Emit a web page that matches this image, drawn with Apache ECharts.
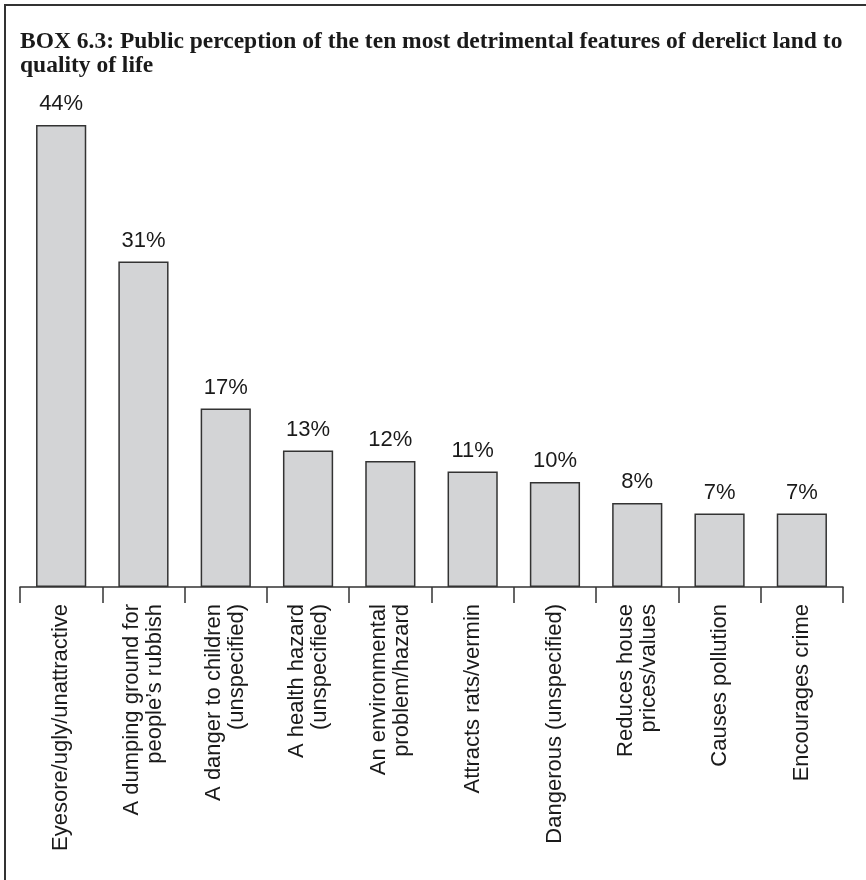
<!DOCTYPE html>
<html>
<head>
<meta charset="utf-8">
<script src="https://cdn.jsdelivr.net/npm/echarts@6/dist/echarts.min.js"></script>
<style>
  html, body { margin: 0; padding: 0; background: #ffffff; }
  #chart { width: 866px; height: 880px; }
</style>
</head>
<body>
<div id="chart"></div>
<script>
// Features of derelict land judged most detrimental to quality of life
const categories = [
  'Eyesore/ugly/unattractive',
  'A dumping ground for\npeople\u2019s rubbish',
  'A danger to children\n(unspecified)',
  'A health hazard\n(unspecified)',
  'An environmental\nproblem/hazard',
  'Attracts rats/vermin',
  'Dangerous (unspecified)',
  'Reduces house\nprices/values',
  'Causes pollution',
  'Encourages crime'
];
// Share of respondents (%)
const percentages = [44, 31, 17, 13, 12, 11, 10, 8, 7, 7];

const titleText = 'BOX 6.3: Public perception of the ten most detrimental features of derelict land to\nquality of life';

const chart = echarts.init(document.getElementById('chart'), null, { renderer: 'canvas' });

chart.setOption({
  animation: false,
  backgroundColor: '#ffffff',
  title: {
    text: titleText,
    left: 20,
    top: 30,
    padding: 0,
    textStyle: {
      fontFamily: 'Liberation Serif',
      fontWeight: 'bold',
      fontSize: 23.5,
      lineHeight: 24,
      color: '#1a1a1a'
    }
  },
  graphic: [{
    type: 'rect',
    shape: { x: 5, y: 5, width: 900, height: 900 },
    style: { fill: 'none', stroke: '#333333', lineWidth: 2 },
    silent: true
  }],
  grid: { left: 20, right: 23, top: 62, bottom: 293 },
  xAxis: {
    type: 'category',
    data: categories,
    axisLine: { show: true, lineStyle: { color: '#333333', width: 1.5 } },
    axisTick: { show: true, length: 16, lineStyle: { color: '#333333', width: 1.5 } },
    axisLabel: {
      rotate: 90,
      interval: 0,
      margin: 17,
      fontFamily: 'Liberation Sans',
      fontSize: 22,
      lineHeight: 23,
      color: '#1a1a1a'
    }
  },
  yAxis: {
    type: 'value',
    min: 0,
    max: 50,
    show: false,
    splitLine: { show: false }
  },
  series: [{
    type: 'bar',
    data: percentages,
    barCategoryGap: '39%',
    itemStyle: {
      color: '#d3d4d6',
      borderColor: '#333333',
      borderWidth: 1.5
    },
    label: {
      show: true,
      position: 'top',
      distance: 10,
      formatter: '{c}%',
      fontFamily: 'Liberation Sans',
      fontSize: 22,
      color: '#1a1a1a'
    }
  }]
});
</script>
</body>
</html>
